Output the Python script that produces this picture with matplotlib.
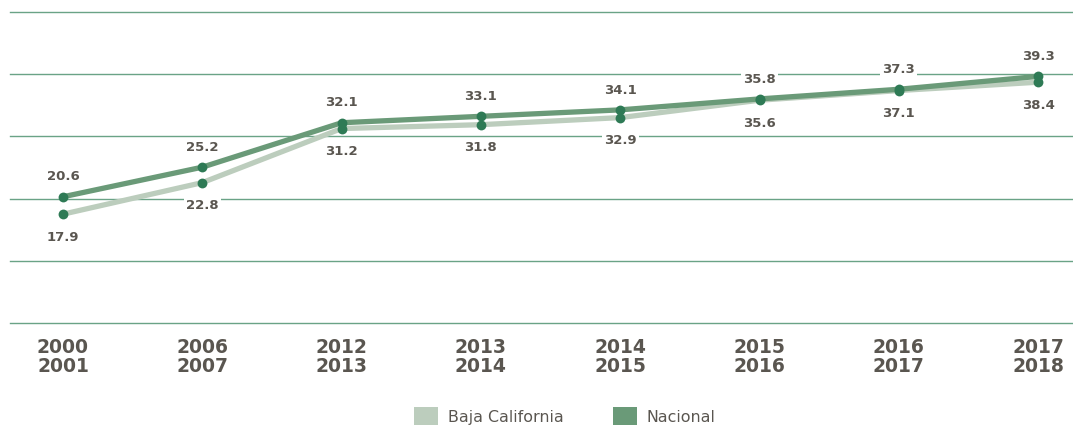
import numpy as np
import matplotlib.pyplot as plt
from matplotlib.patches import Patch

periods = ["2000\n2001", "2006\n2007", "2012\n2013", "2013\n2014",
           "2014\n2015", "2015\n2016", "2016\n2017", "2017\n2018"]
baja = [17.9, 22.8, 31.2, 31.8, 32.9, 35.6, 37.1, 38.4]
nacional = [20.6, 25.2, 32.1, 33.1, 34.1, 35.8, 37.3, 39.3]

BAJA_COLOR = "#bccdbd"
NAC_COLOR = "#6a9a78"
DOT_COLOR = "#2e7a55"
GRID_COLOR = "#6aa386"
TEXT_COLOR = "#5a5650"

fig = plt.figure(figsize=(10.73, 4.27), dpi=100)
ax = fig.add_axes([10 / 1073, 1 - 324 / 427, 1 - 10 / 1073, (324 - 13) / 427])

x = list(range(len(periods)))
ax.plot(x, baja, color=BAJA_COLOR, linewidth=3.8, solid_capstyle="butt", zorder=2)
ax.plot(x, nacional, color=NAC_COLOR, linewidth=3.8, solid_capstyle="butt", zorder=3)
ax.scatter(x, baja, s=50, color=DOT_COLOR, zorder=4, linewidths=0)
ax.scatter(x, nacional, s=50, color=DOT_COLOR, zorder=5, linewidths=0)

box = dict(boxstyle="square,pad=0.15", facecolor="white", edgecolor="none")
for xi, v in zip(x, nacional):
    ax.annotate(f"{v:.1f}", (xi, v), xytext=(0, 15), textcoords="offset points",
                ha="center", va="center", fontsize=9.5, fontweight="bold",
                color=TEXT_COLOR, bbox=box, zorder=6)
for xi, v in zip(x, baja):
    ax.annotate(f"{v:.1f}", (xi, v), xytext=(0, -16), textcoords="offset points",
                ha="center", va="center", fontsize=9.5, fontweight="bold",
                color=TEXT_COLOR, bbox=box, zorder=6)

y_lo, y_hi = 1.0, 49.3
ax.set_ylim(y_lo, y_hi)
ax.set_yticks(np.linspace(y_lo, y_hi, 6))
ax.set_xlim(-0.38, 7.25)
ax.set_xticks(x)
ax.set_xticklabels(periods, fontsize=13.5, fontweight="bold", color=TEXT_COLOR,
                   linespacing=1.0)
ax.tick_params(axis="x", length=0, pad=10)
ax.tick_params(axis="y", length=0, labelleft=False)
ax.grid(axis="y", color=GRID_COLOR, linewidth=1.0)
for gl in ax.yaxis.get_gridlines():
    gl.set_clip_on(False)
ax.set_axisbelow(True)
for spine in ax.spines.values():
    spine.set_visible(False)

handles = [Patch(facecolor=BAJA_COLOR, label="Baja California"),
           Patch(facecolor=NAC_COLOR, label="Nacional")]
fig.legend(handles=handles, loc="center", bbox_to_anchor=(565 / 1073, 1 - 417 / 427),
           ncol=2, frameon=False, fontsize=11.4, labelcolor=TEXT_COLOR,
           handlelength=1.5, handleheight=1.4, columnspacing=3.1, handletextpad=0.63,
           borderpad=0.2)

fig.savefig("out.png", dpi=100)
